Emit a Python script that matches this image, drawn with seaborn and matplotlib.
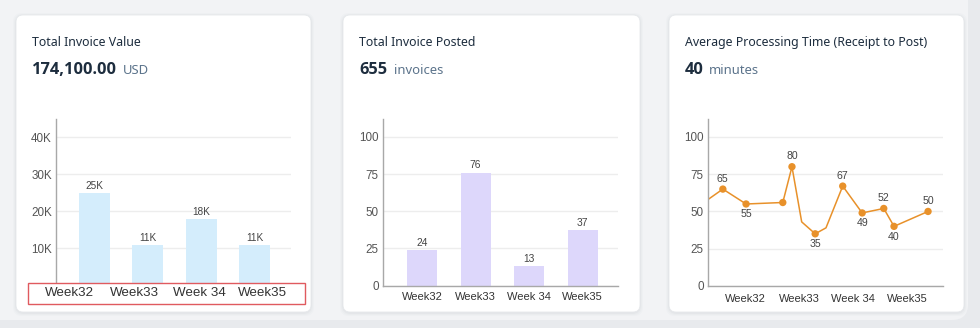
import matplotlib
matplotlib.use("Agg")
import matplotlib.pyplot as plt
import seaborn as sns
import pandas as pd
from matplotlib.patches import FancyBboxPatch, Rectangle

# ---- data -------------------------------------------------------------
weeks = ["Week32", "Week33", "Week 34", "Week35"]

invoice_value = [25000, 11000, 18000, 11000]
invoice_value_labels = ["25K", "11K", "18K", "11K"]

invoices_posted = [24, 76, 13, 37]

# processing time samples, x measured in weeks (1 = Week32 ... 4 = Week35)
proc_week_pos = [0.315, 0.59, 1.02, 1.70, 1.87, 2.05, 2.30, 2.50, 2.81, 3.17, 3.57, 3.76, 4.39]
proc_minutes = [58, 65, 55, 56, 80, 43, 35, 39, 67, 49, 52, 40, 50]
proc_marked = [False, True, True, True, True, False, True, False, True, True, True, True, True]
proc_labels = ["", "65", "55", "", "80", "", "35", "", "67", "49", "52", "40", "50"]
proc_label_above = [True, True, False, True, True, True, False, True, True, False, True, False, True]

headers = [
    ("Total Invoice Value", "174,100.00", "USD"),
    ("Total Invoice Posted", "655", "invoices"),
    ("Average Processing Time (Receipt to Post)", "40", "minutes"),
]

# ---- style ------------------------------------------------------------
sns.set_theme(style="white")
plt.rcParams["font.family"] = ["Liberation Sans", "DejaVu Sans"]

W, H = 980, 328
fig = plt.figure(figsize=(W / 100, H / 100), dpi=100)
fig.patch.set_facecolor("#e8eaed")

TEXT_DARK = "#1d2d3e"
TEXT_UNIT = "#5b738b"
TICK_COL = "#555555"
GRID_COL = "#ededed"
SPINE_COL = "#a8a8a8"
HEAD_FONT = ["Open Sans", "Noto Sans", "DejaVu Sans"]


def px_rect(l, t, r, b):
    return [l / W, 1 - b / H, (r - l) / W, (b - t) / H]


# background layer in pixel coordinates
bg = fig.add_axes([0, 0, 1, 1], zorder=-5)
bg.set_xlim(0, W)
bg.set_ylim(H, 0)
bg.axis("off")

bg.add_patch(FancyBboxPatch((-20, -30), 988, 350,
                            boxstyle="round,pad=0,rounding_size=16",
                            fc="#f2f3f5", ec="none"))

cards = [(16, 15, 311, 312), (343, 15, 640, 312), (669, 15, 964, 312)]
for (l, t, r, b) in cards:
    for k, a in ((3, 0.03), (2, 0.04), (1, 0.06)):
        bg.add_patch(FancyBboxPatch((l - k, t - k + 1), r - l + 2 * k, b - t + 2 * k,
                                    boxstyle="round,pad=0,rounding_size=9",
                                    fc="#8a96a3", ec="none", alpha=a))
    bg.add_patch(FancyBboxPatch((l, t), r - l, b - t,
                                boxstyle="round,pad=0,rounding_size=7",
                                fc="white", ec="#e6e8eb", lw=0.6))

header_x = [32, 359, 685]
unit_x = [123, 394, 709]
for (title, value, unit), hx, ux in zip(headers, header_x, unit_x):
    bg.text(hx, 46, title, fontsize=8.9, color=TEXT_DARK, va="baseline",
            family=["Noto Sans", "DejaVu Sans"])
    bg.text(hx, 74, value, fontsize=11.8, color=TEXT_DARK, va="baseline",
            fontweight="bold", family=HEAD_FONT)
    bg.text(ux, 74, unit, fontsize=9.4, color=TEXT_UNIT, va="baseline",
            family=["Noto Sans", "DejaVu Sans"])


def style_axes(ax, yticks, ytlabels):
    sns.despine(ax=ax, top=True, right=True)
    ax.set_facecolor("none")
    ax.spines["left"].set_color(SPINE_COL)
    ax.spines["bottom"].set_color(SPINE_COL)
    ax.spines["left"].set_linewidth(1.0)
    ax.spines["bottom"].set_linewidth(1.0)
    ax.set_yticks(yticks)
    ax.set_yticklabels(ytlabels)
    ax.yaxis.grid(True, color=GRID_COL, linewidth=1.0)
    ax.xaxis.grid(False)
    ax.tick_params(axis="y", length=0, pad=3, labelsize=8.4, labelcolor=TICK_COL)
    ax.set_xlabel("")
    ax.set_ylabel("")


# ---- panel 1: total invoice value ------------------------------------
ax1 = fig.add_axes(px_rect(56, 119, 291, 285.4))
df1 = pd.DataFrame({"week": weeks, "value": invoice_value})
sns.barplot(data=df1, x="week", y="value", color="#d4edfc", saturation=1,
            width=0.58, edgecolor="none", ax=ax1)
x0_1, x1_1 = -0.721, 3.680
ax1.set_xlim(x0_1, x1_1)
ax1.set_ylim(0, 45000)
style_axes(ax1, [10000, 20000, 30000, 40000], ["10K", "20K", "30K", "40K"])
ax1.spines["bottom"].set_visible(False)
for i, (v, lab) in enumerate(zip(invoice_value, invoice_value_labels)):
    ax1.annotate(lab, (i, v), xytext=(0, 1.5), textcoords="offset points",
                 ha="center", va="bottom", fontsize=7.2, color="#444444")
# week labels sit in a highlighted strip under the bars
label_px = [69, 134, 199, 262]
label_pos = [x0_1 + (p - 56) / (291 - 56) * (x1_1 - x0_1) for p in label_px]
ax1.set_xticks(label_pos)
ax1.set_xticklabels(weeks)
ax1.tick_params(axis="x", length=0, pad=1, labelsize=9.6, labelcolor="#333333")
ax1.add_patch(Rectangle((28, 283), 277, 21, transform=bg.transData,
                        fc="white", ec="#e05a5f", lw=1.0, clip_on=False, zorder=3))
ax1.xaxis.set_zorder(4)

# ---- panel 2: total invoices posted ----------------------------------
ax2 = fig.add_axes(px_rect(383, 119, 618, 285.5))
df2 = pd.DataFrame({"week": weeks, "count": invoices_posted})
sns.barplot(data=df2, x="week", y="count", color="#ddd7fb", saturation=1,
            width=0.56, edgecolor="none", ax=ax2)
ax2.set_xlim(-0.728, 3.657)
ax2.set_ylim(0, 112)
style_axes(ax2, [0, 25, 50, 75, 100], ["0", "25", "50", "75", "100"])
for i, v in enumerate(invoices_posted):
    ax2.annotate(str(v), (i, v), xytext=(0, 1.5), textcoords="offset points",
                 ha="center", va="bottom", fontsize=7.4, color="#444444")
ax2.tick_params(axis="x", length=0, pad=4.5, labelsize=8, labelcolor="#333333")

# ---- panel 3: average processing time --------------------------------
ax3 = fig.add_axes(px_rect(708, 119, 943, 286))
df3 = pd.DataFrame({"pos": proc_week_pos, "minutes": proc_minutes,
                    "marked": proc_marked})
ORANGE = "#e8912a"
sns.lineplot(data=df3, x="pos", y="minutes", sort=False, color=ORANGE,
             linewidth=1.1, ax=ax3)
sns.scatterplot(data=df3[df3["marked"]], x="pos", y="minutes", color=ORANGE,
                s=28, edgecolor="none", ax=ax3, zorder=3)
ax3.set_xlim(0.315, 4.667)
ax3.set_ylim(0, 112)
style_axes(ax3, [0, 25, 50, 75, 100], ["0", "25", "50", "75", "100"])
ax3.set_xticks([1, 2, 3, 4])
ax3.set_xticklabels(weeks)
ax3.tick_params(axis="x", length=0, pad=5.5, labelsize=8, labelcolor="#333333")
for x, y, lab, above in zip(proc_week_pos, proc_minutes, proc_labels, proc_label_above):
    if lab:
        ax3.annotate(lab, (x, y), xytext=(0, 7.5 if above else -7.5),
                     textcoords="offset points", ha="center",
                     va="center", fontsize=7.6, color="#444444")

fig.savefig("out.png", dpi=100, facecolor=fig.get_facecolor())
